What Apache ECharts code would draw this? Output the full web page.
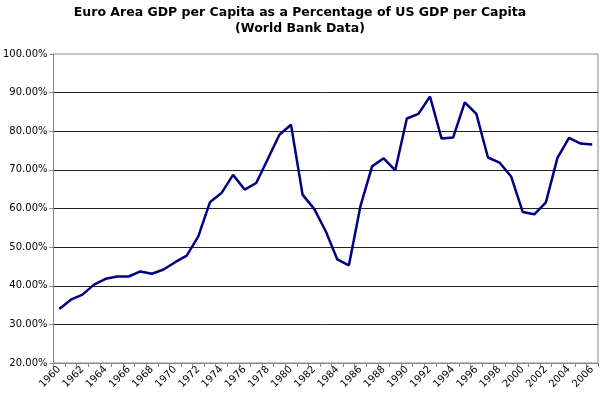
<!DOCTYPE html>
<html><head><meta charset="utf-8">
<script src="https://cdn.jsdelivr.net/npm/echarts@6/dist/echarts.min.js"></script>
<style>html,body{margin:0;padding:0;background:#fff}#c{width:600px;height:394px}</style>
</head><body><div id="c"></div>
<script>
const years = [];
for (let y = 1960; y <= 2006; y++) years.push(String(y));
const ratio = [34.0, 36.4, 37.7, 40.3, 41.8, 42.4, 42.4, 43.7, 43.1, 44.2,
  46.1, 47.8, 52.8, 61.6, 64.0, 68.7, 64.9, 66.6, 72.8, 79.1,
  81.7, 63.6, 59.9, 54.1, 46.8, 45.3, 60.7, 70.9, 73.0, 69.9,
  83.3, 84.5, 89.0, 78.1, 78.4, 87.5, 84.5, 73.2, 71.9, 68.3,
  59.1, 58.5, 61.6, 73.1, 78.3, 76.8, 76.6];
const titleText = 'Euro Area GDP per Capita as a Percentage of US GDP per Capita\n(World Bank Data)';

const chart = echarts.init(document.getElementById('c'), null, {renderer: 'canvas'});
chart.setOption({
  animation: false,
  title: {
    text: titleText, left: 'center', top: 0,
    textStyle: {fontFamily: 'DejaVu Sans', fontWeight: 'bold', fontSize: 12.5, lineHeight: 16, color: '#000'}
  },
  grid: {left: 49, right: 2, top: 54, bottom: 31, show: true, borderColor: '#888', borderWidth: 1},
  xAxis: {
    type: 'category', data: years, boundaryGap: true,
    axisLine: {lineStyle: {color: '#888'}},
    axisTick: {show: true, interval: 0, length: 4, lineStyle: {color: '#888'}},
    axisLabel: {interval: 1, rotate: 45, fontFamily: 'DejaVu Sans', fontSize: 10, color: '#000', margin: 5}
  },
  yAxis: {
    type: 'value', min: 20, max: 100, interval: 10,
    axisLine: {show: true, lineStyle: {color: '#888'}},
    axisTick: {show: true, length: 4, lineStyle: {color: '#888'}},
    axisLabel: {formatter: v => v.toFixed(2) + '%', fontFamily: 'DejaVu Sans', fontSize: 10, color: '#000', margin: 6},
    splitLine: {show: true, showMinLine: false, showMaxLine: false, lineStyle: {color: '#222', width: 1}}
  },
  series: [{
    type: 'line', data: ratio, symbol: 'none',
    lineStyle: {color: '#000080', width: 2.5}
  }]
});
</script></body></html>
